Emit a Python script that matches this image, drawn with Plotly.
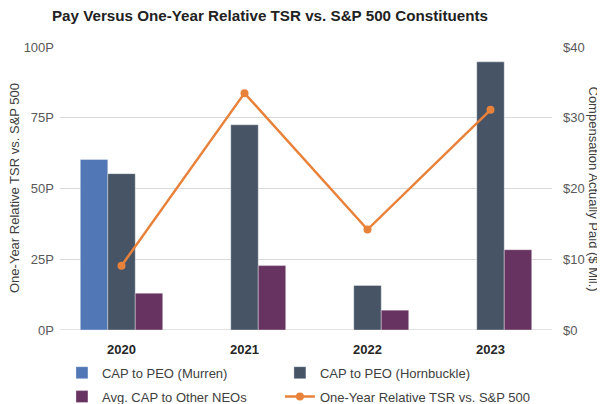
import plotly.graph_objects as go

years = ["2020", "2021", "2022", "2023"]
cap_murren = [24.1, None, None, None]
cap_hornbuckle = [22.1, 29.0, 6.3, 37.9]
cap_other_neos = [5.2, 9.1, 2.8, 11.35]
tsr_percentile = [22.7, 83.7, 35.5, 77.8]

left_ticks = [0, 25, 50, 75, 100]
left_labels = ["0P", "25P", "50P", "75P", "100P"]
right_ticks = [0, 10, 20, 30, 40]
right_labels = ["$0", "$10", "$20", "$30", "$40"]

FONT = "Liberation Sans, Arial, sans-serif"
GRAY = "#595959"

fig = go.Figure()
bar_line = dict(color="rgba(255,255,255,0.35)", width=1)
fig.add_trace(go.Bar(x=years, y=cap_murren, name="CAP to PEO (Murren)",
                     marker=dict(color="#5177B6", line=bar_line), yaxis="y",
                     legend="legend", legendgroup="a"))
fig.add_trace(go.Bar(x=years, y=cap_hornbuckle, name="CAP to PEO (Hornbuckle)",
                     marker=dict(color="#465466", line=bar_line), yaxis="y",
                     legend="legend2", legendgroup="b"))
fig.add_trace(go.Bar(x=years, y=cap_other_neos, name="Avg. CAP to Other NEOs",
                     marker=dict(color="#673461", line=bar_line), yaxis="y",
                     legend="legend", legendgroup="c"))
fig.add_trace(go.Scatter(x=years, y=tsr_percentile, name="One-Year Relative TSR vs. S&P 500",
                         mode="lines+markers", yaxis="y2",
                         line=dict(color="#E8823A", width=2.5),
                         marker=dict(color="#E8823A", size=8),
                         legend="legend2", legendgroup="d"))

legend_common = dict(orientation="v", yanchor="top", y=-0.098, xanchor="left",
                     font=dict(size=13, color="#404040"), traceorder="grouped",
                     tracegroupgap=4, itemwidth=30, bgcolor="rgba(0,0,0,0)")

fig.update_layout(
    width=597, height=396,
    margin=dict(l=52, r=53, t=39, b=74, autoexpand=False),
    paper_bgcolor="white", plot_bgcolor="white",
    font=dict(family=FONT, size=13, color=GRAY),
    barmode="group", bargap=0.33, bargroupgap=0,
    title=dict(text="<b>Pay Versus One-Year Relative TSR vs. S&P 500 Constituents</b>",
               font=dict(family=FONT, size=15.2, color="#222222"),
               x=262 / 597, xanchor="center", xref="container",
               y=1 - 7.5 / 396, yanchor="middle", yref="container"),
    xaxis=dict(type="category", showgrid=False, showline=False, zeroline=False,
               tickfont=dict(family=FONT, size=13, color="#262626", weight="bold"),
               ticklabelstandoff=10),
    yaxis=dict(side="right", range=[0, 40], tickmode="array", tickvals=right_ticks,
               ticktext=right_labels,
               showgrid=True, gridcolor="#D9D9D9", gridwidth=1, zeroline=False,
               showline=False, ticklabelstandoff=10, tickfont=dict(size=13, color=GRAY)),
    yaxis2=dict(side="left", overlaying="y", range=[0, 100], tickmode="array",
                tickvals=left_ticks, ticktext=left_labels,
                showgrid=False, zeroline=False, showline=False, ticklabelstandoff=5,
                tickfont=dict(size=13, color=GRAY)),
    legend=dict(x=0.004, **legend_common),
    legend2=dict(x=0.447, **legend_common),
    showlegend=True,
)

fig.add_annotation(text="One-Year Relative TSR vs. S&P 500", textangle=-90,
                   xref="paper", yref="paper", x=0, y=0.5, showarrow=False,
                   xanchor="center", yanchor="middle", xshift=-45.5,
                   font=dict(size=13, color="#404040"))
fig.add_annotation(text="Compensation Actually Paid ($ Mil.)", textangle=90,
                   xref="paper", yref="paper", x=1.0, y=0.5, showarrow=False,
                   xanchor="center", yanchor="middle", xshift=41,
                   font=dict(size=13, color="#404040"))
fig.add_shape(type="line", xref="paper", yref="y", x0=0, x1=1, y0=0, y1=0,
              line=dict(color="#D9D9D9", width=1.5), layer="below")

fig.write_html("out.html")
